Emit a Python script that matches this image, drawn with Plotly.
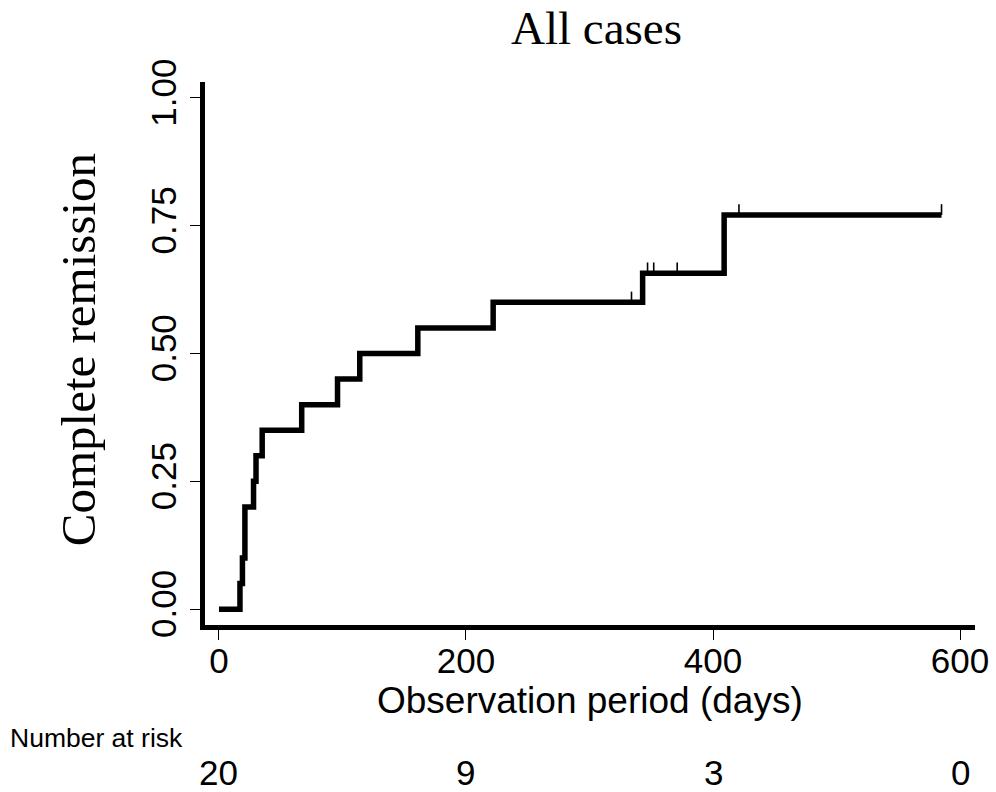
import plotly.graph_objects as go

# Kaplan-Meier style step curve (cumulative complete remission)
step_days = [0, 17, 19, 21, 28, 30, 35, 67, 96, 114, 161, 222, 343, 409, 585]
step_values = [0.0, 0.05, 0.10, 0.20, 0.25, 0.30, 0.35, 0.40, 0.45, 0.50, 0.55, 0.60, 0.657, 0.771, 0.771]

censor_days = [334, 347, 352, 371, 421, 585]
censor_values = [0.60, 0.657, 0.657, 0.657, 0.771, 0.771]

x_ticks = [0, 200, 400, 600]
y_ticks = [0.0, 0.25, 0.50, 0.75, 1.00]
y_tick_labels = ["0.00", "0.25", "0.50", "0.75", "1.00"]

risk_days = [0, 200, 400, 600]
risk_counts = [20, 9, 3, 0]

SANS = "Liberation Sans, Arial, Helvetica, sans-serif"
SERIF = "Liberation Serif, Times New Roman, serif"

fig = go.Figure()

fig.add_trace(go.Scatter(
    x=step_days, y=step_values, mode="lines",
    line=dict(shape="hv", color="black", width=5.5),
    hoverinfo="skip", showlegend=False,
))

# censor marks: short vertical segments above the curve
cx, cy = [], []
for d, v in zip(censor_days, censor_values):
    cx += [d, d, None]
    cy += [v, v + 0.021, None]
fig.add_trace(go.Scatter(
    x=cx, y=cy, mode="lines",
    line=dict(color="black", width=1.6),
    hoverinfo="skip", showlegend=False,
))

annotations = [
    dict(text="All cases", x=0.508, y=1.0, xref="paper", yref="paper",
         yshift=54, xanchor="center", yanchor="middle", showarrow=False,
         font=dict(family=SERIF, size=47, color="black")),
    dict(text="Complete remission", x=0, y=0.506, xref="paper", yref="paper",
         xshift=-127, xanchor="center", yanchor="middle", textangle=-90,
         showarrow=False, font=dict(family=SERIF, size=49, color="black")),
    dict(text="Observation period (days)", x=0.5, y=0, xref="paper", yref="paper",
         yshift=-75, xanchor="center", yanchor="middle", showarrow=False,
         font=dict(family=SANS, size=37, color="black")),
    dict(text="Number at risk", x=0, y=0, xref="paper", yref="paper",
         xshift=-197, yshift=-113, xanchor="left", yanchor="middle", showarrow=False,
         font=dict(family=SANS, size=26.5, color="black")),
]
for d, n in zip(risk_days, risk_counts):
    annotations.append(dict(
        text=str(n), x=d, y=0, xref="x", yref="paper", yshift=-147,
        xanchor="center", yanchor="middle", showarrow=False,
        font=dict(family=SANS, size=35, color="black")))

fig.update_layout(
    width=996, height=792,
    margin=dict(l=205, r=21, t=82, b=167, autoexpand=False),
    paper_bgcolor="white", plot_bgcolor="white",
    annotations=annotations,
    xaxis=dict(
        range=[-11.3, 612.1], tickvals=x_ticks, ticktext=[str(t) for t in x_ticks],
        showgrid=False, zeroline=False, showline=True, linecolor="black", linewidth=5,
        ticks="outside", ticklen=10, tickwidth=1, tickcolor="black",
        tickfont=dict(family=SANS, size=35, color="black"),
        automargin=False, ticklabelstandoff=-9,
    ),
    yaxis=dict(
        range=[-0.031, 1.031], tickvals=y_ticks, ticktext=y_tick_labels,
        showgrid=False, zeroline=False, showline=True, linecolor="black", linewidth=5,
        ticks="outside", ticklen=10, tickwidth=1, tickcolor="black", tickangle=-90,
        tickfont=dict(family=SANS, size=35, color="black"),
        automargin=False,
    ),
)

fig.write_html("out.html")
